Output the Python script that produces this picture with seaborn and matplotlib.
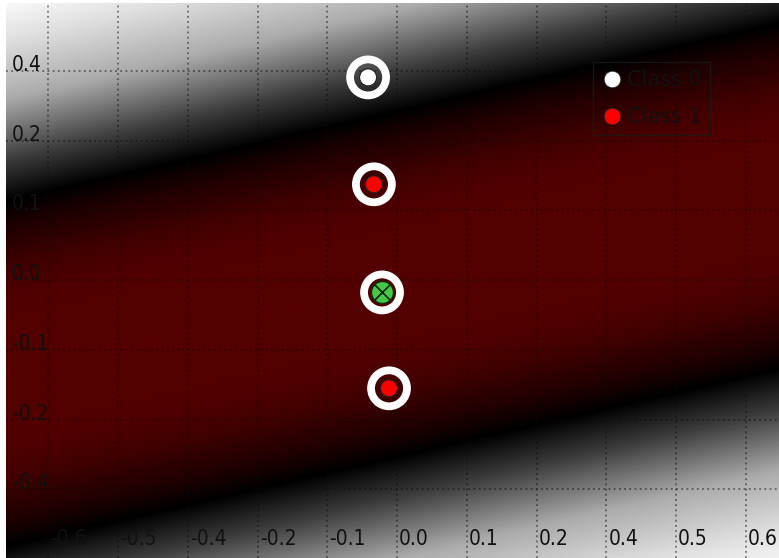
import numpy as np
import matplotlib
matplotlib.use("Agg")
import matplotlib.pyplot as plt
import seaborn as sns
from matplotlib.colors import LinearSegmentedColormap
from matplotlib.lines import Line2D
from matplotlib.transforms import ScaledTranslation

# ---------------- data ----------------
class_names = ["Class 0", "Class 1"]
class_colors = ["#ffffff", "#ff0000"]
point_x = [-0.050, -0.040, -0.014]
point_y = [0.349, 0.165, -0.186]
point_class = ["Class 0", "Class 1", "Class 1"]
test_x = [-0.026]
test_y = [-0.021]

# decision-function band (centre line y = a + b*x, margin half width)
boundary_slope = 0.23
boundary_intercept = -0.0064
margin_half_width = 0.298

x_ticks = [-0.6, -0.48, -0.36, -0.24, -0.12, 0.0, 0.12, 0.24, 0.36, 0.48, 0.6]
x_tick_labels = ["-0.6", "-0.5", "-0.4", "-0.2", "-0.1", "0.0", "0.1", "0.2", "0.4", "0.5", "0.6"]
y_ticks = [-0.36, -0.24, -0.12, 0.0, 0.12, 0.24, 0.36]
y_tick_labels = ["-0.4", "-0.2", "-0.1", "0.0", "0.1", "0.2", "0.4"]
x_limits = (-0.673, 0.657)
y_limits = (-0.478, 0.477)

# colour ramp: |distance| in margin units -> colour
ramp_d = [0.0, 0.4, 0.6, 0.85, 1.0, 1.24, 1.59, 1.94, 2.2]
ramp_colors = [(0.33, 0, 0), (0.32, 0, 0), (0.26, 0, 0), (0.12, 0, 0), (0, 0, 0),
               (0.24, 0.24, 0.24), (0.67, 0.67, 0.67), (0.88, 0.88, 0.88), (1, 1, 1)]

# ---------------- style ----------------
sns.set_theme(style="white")
plt.rcParams["font.family"] = ["DejaVu Sans"]
plt.rcParams["axes.unicode_minus"] = False

W, H = 779, 558
fig = plt.figure(figsize=(W / 100, H / 100), dpi=100, facecolor="white")
ax = fig.add_axes([6 / W, 0, (W - 6) / W, (H - 3) / H])

# background decision field
gx = np.linspace(x_limits[0], x_limits[1], 700)
gy = np.linspace(y_limits[0], y_limits[1], 500)
GX, GY = np.meshgrid(gx, gy)
dist = np.abs(GY - (boundary_intercept + boundary_slope * GX)) / margin_half_width
dmax = ramp_d[-1]
cmap = LinearSegmentedColormap.from_list(
    "svm", list(zip([d / dmax for d in ramp_d], ramp_colors)))
ax.imshow(np.clip(dist, 0, dmax), origin="lower", cmap=cmap, vmin=0, vmax=dmax,
          extent=[x_limits[0], x_limits[1], y_limits[0], y_limits[1]],
          aspect="auto", interpolation="bilinear", zorder=0)

# rings around all points
ring_x = point_x + test_x
ring_y = point_y + test_y
ax.scatter(ring_x, ring_y, s=671, facecolors="none", edgecolors="white",
           linewidths=5.6, zorder=3)

# class points
sns.scatterplot(x=point_x, y=point_y, hue=point_class, hue_order=class_names,
                palette=dict(zip(class_names, class_colors)), s=150,
                edgecolor="#222222", linewidth=0.8, legend=False, ax=ax, zorder=4)

# test point
ax.scatter(test_x, test_y, s=250, facecolors="#45c845", edgecolors="#103010",
           linewidths=1.0, zorder=4)
ax.scatter(test_x, test_y, s=120, marker="x", c="#0a200a", linewidths=1.2, zorder=5)

ax.set_xlim(*x_limits)
ax.set_ylim(*y_limits)

# grid & ticks
ax.set_xticks(x_ticks)
ax.set_xticklabels(x_tick_labels)
ax.set_yticks(y_ticks)
ax.set_yticklabels(y_tick_labels)
ax.grid(True, color="#0c0c0c", linestyle=(0, (1.2, 2.2)), linewidth=1.1, alpha=0.6)
ax.tick_params(axis="both", length=0, labelsize=15, labelcolor="#111111")
ax.tick_params(axis="x", pad=-9.4)
ax.tick_params(axis="y", pad=-4.3)
for lbl in ax.get_xticklabels():
    lbl.set_ha("left")
    lbl.set_va("baseline")
    lbl.set_fontstretch("condensed")
    lbl.set_transform(lbl.get_transform() + ScaledTranslation(0.02, 0, fig.dpi_scale_trans))
for lbl in ax.get_yticklabels():
    lbl.set_ha("left")
    lbl.set_va("baseline")
    lbl.set_fontstretch("condensed")
for sp in ax.spines.values():
    sp.set_visible(False)

# legend
handles = [Line2D([], [], marker="o", linestyle="", markersize=12,
                  markerfacecolor=c, markeredgecolor="#222222", markeredgewidth=0.6)
           for c in class_colors]
leg = ax.legend(handles, class_names, loc="upper left",
                bbox_to_anchor=(593 / W, 1 - 62 / H), bbox_transform=fig.transFigure,
                frameon=True, fancybox=False, facecolor="none", edgecolor="#1a1a1a",
                fontsize=15, handlelength=1.0, handletextpad=0.25, borderpad=0.4,
                labelspacing=0.8, borderaxespad=0)
leg.get_frame().set_linewidth(1.0)
for t in leg.get_texts():
    t.set_color("#111111")

fig.savefig("out.png", dpi=100, facecolor="white")
